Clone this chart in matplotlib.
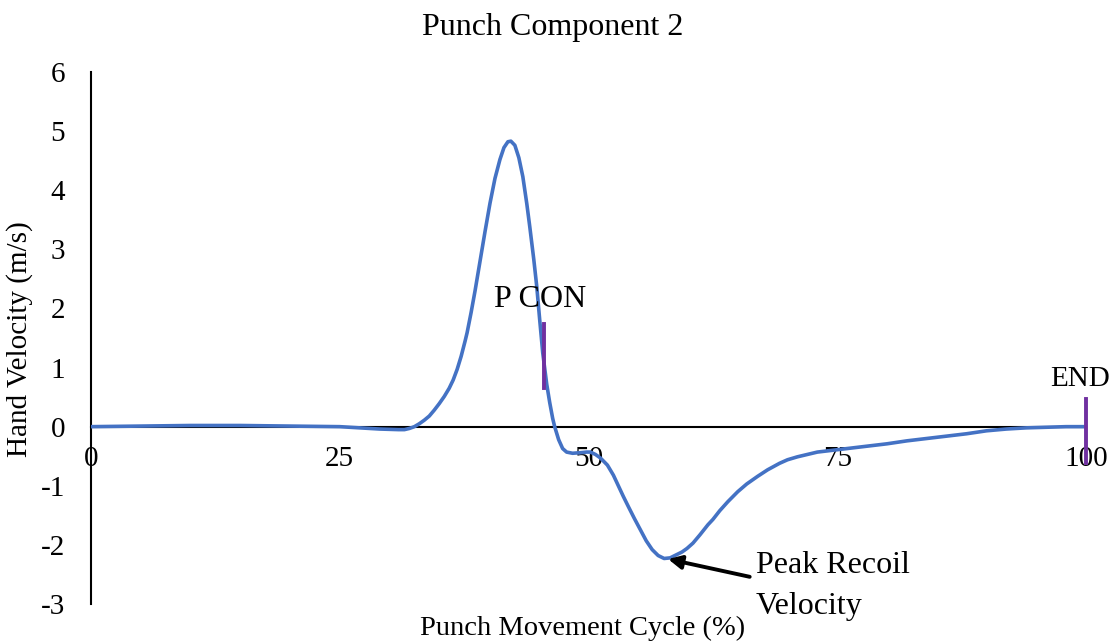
import matplotlib
matplotlib.use('agg')
import matplotlib.pyplot as plt

plt.rcParams['font.family'] = ['Liberation Serif', 'DejaVu Serif']
plt.rcParams['axes.unicode_minus'] = False

# Hand velocity vs punch movement cycle
cycle = [0, 5, 10, 15, 20, 25, 27, 29, 30.9, 31.5, 32, 32.5, 33, 33.5, 34,
         34.5, 35, 35.5, 36, 36.4, 36.8, 37.2, 37.6, 37.8, 38.2, 38.6, 39.1,
         39.6, 40.1, 40.6, 41.1, 41.5, 41.9, 42.2, 42.6, 43.0, 43.4, 43.8,
         44.1, 44.5, 44.8, 45.1, 45.4, 45.8, 46.1, 46.4, 46.6, 47.0, 47.4,
         47.8, 48.4, 49.2, 49.8, 50.2, 50.7, 51.2, 51.9, 52.5, 53, 53.5, 54,
         54.6, 55.2, 55.8, 56.4, 57, 57.6, 58.2, 58.8, 59.4, 59.9, 60.5, 61.2,
         62, 62.5, 63.2, 64, 65, 65.9, 67, 68, 69.2, 70, 71, 72, 73, 74, 76,
         78, 80, 82, 84, 86, 88, 90, 92, 94, 96, 98, 100]
velocity = [0, 0.01, 0.02, 0.02, 0.01, 0.0, -0.02, -0.04, -0.05, -0.05, -0.03,
            0.0, 0.05, 0.11, 0.18, 0.28, 0.39, 0.51, 0.65, 0.79, 0.97, 1.19,
            1.45, 1.59, 1.93, 2.3, 2.8, 3.3, 3.78, 4.2, 4.52, 4.72, 4.82, 4.83,
            4.76, 4.55, 4.23, 3.77, 3.38, 2.83, 2.37, 1.8, 1.25, 0.72, 0.41,
            0.14, 0.0, -0.22, -0.37, -0.43, -0.45, -0.44, -0.43, -0.43, -0.47,
            -0.53, -0.65, -0.82, -1.0, -1.18, -1.35, -1.55, -1.74, -1.93,
            -2.08, -2.18, -2.23, -2.22, -2.17, -2.12, -2.06, -1.97, -1.83,
            -1.66, -1.57, -1.42, -1.27, -1.1, -0.97, -0.84, -0.73, -0.62,
            -0.56, -0.51, -0.47, -0.43, -0.41, -0.37, -0.33, -0.29, -0.24,
            -0.2, -0.16, -0.12, -0.07, -0.04, -0.02, -0.01, 0.0, 0.0]

# event markers
event_names = ['P CON', 'END']
event_x = [45.5, 100]
event_lo = [0.66, -0.61]
event_hi = [1.74, 0.47]

peak_x, peak_y = 58.0, -2.24

xticks = [0, 25, 50, 75, 100]
yticks = [-3, -2, -1, 0, 1, 2, 3, 4, 5, 6]

W, H = 1113, 643
fig = plt.figure(figsize=(W / 100, H / 100), dpi=100)
ax = fig.add_axes([91 / W, (H - 604) / H, 995 / W, 532 / H])

ax.plot(cycle, velocity, color='#4472C4', lw=2.6, solid_capstyle='round',
        solid_joinstyle='round', zorder=3)

for x, lo, hi in zip(event_x, event_lo, event_hi):
    ax.plot([x, x], [lo, hi], color='#7030A0', lw=2.8, zorder=4, clip_on=False)
ax.text(45.1, 2.15, event_names[0], ha='center', va='center', fontsize=23)
ax.text(99.4, 0.8, event_names[1], ha='center', va='center', fontsize=21)

ax.annotate('', xy=(peak_x, peak_y), xytext=(66.2, -2.54),
            arrowprops=dict(arrowstyle='-|>', color='black', lw=2.8,
                            mutation_scale=20, shrinkA=0, shrinkB=0))
ax.text(66.8, -2.35, 'Peak Recoil', ha='left', va='center', fontsize=23)
ax.text(66.8, -3.05, 'Velocity', ha='left', va='center', fontsize=23)

ax.set_xlim(0, 100)
ax.set_ylim(-3, 6)
ax.spines['top'].set_visible(False)
ax.spines['right'].set_visible(False)
ax.spines['bottom'].set_position(('data', 0))
ax.spines['left'].set_linewidth(1.5)
ax.spines['bottom'].set_linewidth(1.5)
ax.set_xticks(xticks)
ax.set_xticklabels([str(v) for v in xticks])
ax.set_yticks(yticks)
ax.set_yticklabels([str(v) for v in yticks])
ax.tick_params(axis='x', length=0, pad=14, labelsize=21)
ax.tick_params(axis='y', length=0, pad=18.5, labelsize=21)
ax.patch.set_visible(False)

fig.text(553 / W, 1 - 27 / H, 'Punch Component 2', ha='center', va='center', fontsize=23)
fig.text(583 / W, 1 - 628 / H, 'Punch Movement Cycle (%)', ha='center', va='center', fontsize=20.5)
fig.text(20 / W, 1 - 339 / H, 'Hand Velocity (m/s)', ha='center', va='center',
         rotation=90, fontsize=21)

fig.savefig('out.png', dpi=100)
